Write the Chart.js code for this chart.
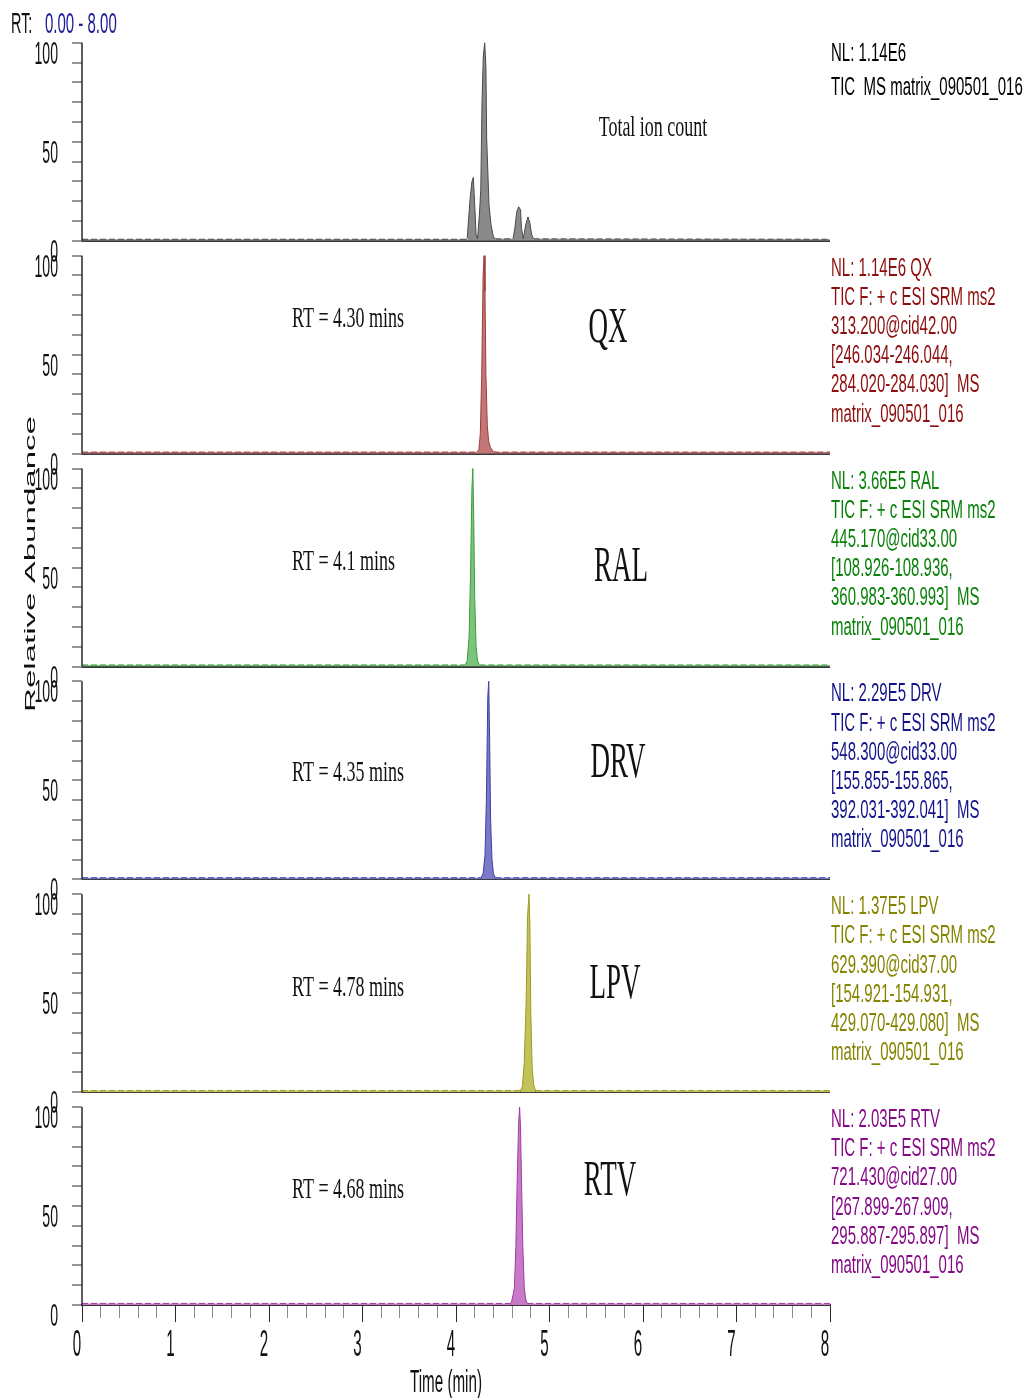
<!DOCTYPE html>
<html>
<head>
<meta charset="utf-8">
<title>LC-MS/MS chromatograms</title>
<script src="https://cdn.jsdelivr.net/npm/chart.js@4.4.1/dist/chart.umd.min.js"></script>
<style>
  html, body { margin: 0; padding: 0; background: #ffffff; }
  #wrap { position: relative; width: 1030px; height: 1398px; }
</style>
</head>
<body>
<div id="wrap"><canvas id="chrom"></canvas></div>
<script>
// ---- chromatogram traces: [retention time (min), relative abundance (%)] ----
const ticTrace = [[0,0.8],[4.10,0.8],[4.12,1.5],[4.15,20.7],[4.17,29.8],[4.185,32],[4.20,18.2],[4.215,3],[4.23,1],
  [4.25,13.1],[4.265,25.8],[4.278,69.2],[4.292,93.4],[4.307,100],[4.32,87.9],[4.328,52],[4.353,18.2],[4.374,8.1],
  [4.40,2],[4.42,1],[4.61,1],[4.63,6.6],[4.65,14.6],[4.67,17.2],[4.69,15.7],[4.70,6.6],[4.72,1],
  [4.745,8.1],[4.77,12.1],[4.79,9.1],[4.81,3],[4.83,1],[8,0.8]];
const qxTrace  = [[0,0.8],[4.22,0.8],[4.245,2],[4.26,10],[4.275,40],[4.29,90],[4.30,100],[4.31,82],[4.32,40],
  [4.335,14],[4.35,6],[4.37,3],[4.40,1],[4.43,0.8],[8,0.8]];
const ralTrace = [[0,0.8],[4.10,0.8],[4.12,3],[4.14,15],[4.155,45],[4.17,90],[4.18,100],[4.19,75],[4.20,35],
  [4.215,10],[4.23,3],[4.25,0.8],[8,0.8]];
const drvTrace = [[0,0.8],[4.27,0.8],[4.29,3],[4.31,12],[4.325,40],[4.34,92],[4.35,100],[4.36,70],[4.37,30],
  [4.385,10],[4.40,3],[4.42,0.8],[8,0.8]];
const lpvTrace = [[0,0.8],[4.69,0.8],[4.71,3],[4.73,15],[4.75,45],[4.765,88],[4.78,100],[4.79,85],[4.80,40],
  [4.815,12],[4.83,4],[4.85,0.8],[8,0.8]];
const rtvTrace = [[0,0.8],[4.59,0.8],[4.61,5],[4.625,9],[4.64,29],[4.655,64],[4.67,92],[4.68,100],[4.69,90],
  [4.70,64],[4.715,29],[4.73,9],[4.745,3],[4.76,0.8],[8,0.8]];

// ---- axis tick labels ----
const yTickLabels = [0, 50, 100];
const xTickLabels = [0, 1, 2, 3, 4, 5, 6, 7, 8];

// ---- panel texts ----
const compounds = ['QX', 'RAL', 'DRV', 'LPV', 'RTV'];
const rtLabels = ['RT = 4.30 mins', 'RT = 4.1 mins', 'RT = 4.35 mins', 'RT = 4.78 mins', 'RT = 4.68 mins'];
const ticInfo = ['NL: 1.14E6', 'TIC  MS matrix_090501_016'];
const qxInfo  = ['NL: 1.14E6 QX', 'TIC F: + c ESI SRM ms2', '313.200@cid42.00', '[246.034-246.044,', '284.020-284.030]  MS', 'matrix_090501_016'];
const ralInfo = ['NL: 3.66E5 RAL', 'TIC F: + c ESI SRM ms2', '445.170@cid33.00', '[108.926-108.936,', '360.983-360.993]  MS', 'matrix_090501_016'];
const drvInfo = ['NL: 2.29E5 DRV', 'TIC F: + c ESI SRM ms2', '548.300@cid33.00', '[155.855-155.865,', '392.031-392.041]  MS', 'matrix_090501_016'];
const lpvInfo = ['NL: 1.37E5 LPV', 'TIC F: + c ESI SRM ms2', '629.390@cid37.00', '[154.921-154.931,', '429.070-429.080]  MS', 'matrix_090501_016'];
const rtvInfo = ['NL: 2.03E5 RTV', 'TIC F: + c ESI SRM ms2', '721.430@cid27.00', '[267.899-267.909,', '295.887-295.897]  MS', 'matrix_090501_016'];

// ---- styling per panel (top to bottom) ----
const panelStyles = [
  { fill: '#8a8a8a', line: '#4a4a4a', text: '#000000' },
  { fill: '#c27676', line: '#a03c3c', text: '#8e0d0d' },
  { fill: '#7cc47c', line: '#3c9e3c', text: '#0a820a' },
  { fill: '#7a7ac8', line: '#3e3ea6', text: '#14148a' },
  { fill: '#c2c25a', line: '#9c9c22', text: '#848400' },
  { fill: '#c77ac7', line: '#a03ca0', text: '#860a86' }
];
const traces = [ticTrace, qxTrace, ralTrace, drvTrace, lpvTrace, rtvTrace];
const infos  = [ticInfo, qxInfo, ralInfo, drvInfo, lpvInfo, rtvInfo];
const panelIds = ['p1', 'p2', 'p3', 'p4', 'p5', 'p6'];

const SANS = '"Liberation Sans", Arial, sans-serif';
const SERIF = '"Liberation Serif", "Times New Roman", serif';

// Draws horizontally condensed text (the instrument software uses a tall narrow face).
function condensed(ctx, text, x, y, font, color, sx, align) {
  ctx.save();
  ctx.font = font;
  ctx.fillStyle = color;
  ctx.textBaseline = 'alphabetic';
  ctx.textAlign = 'left';
  const w = ctx.measureText(text).width * sx;
  const x0 = align === 'right' ? x - w : align === 'center' ? x - w / 2 : x;
  ctx.translate(x0, y);
  ctx.scale(sx, 1);
  ctx.fillText(text, 0, 0);
  ctx.restore();
}

const isWhole = v => Math.abs(v - Math.round(v)) < 1e-6;

const datasets = traces.map((tr, i) => ({
  data: tr.map(p => ({ x: p[0], y: p[1] })),
  xAxisID: 'x',
  yAxisID: panelIds[i],
  borderColor: panelStyles[i].line,
  backgroundColor: panelStyles[i].fill,
  borderWidth: 1,
  pointRadius: 0,
  tension: 0,
  fill: 'origin',
  segment: {
    borderDash: c => (c.p0.parsed.y < 2 && c.p1.parsed.y < 2) ? [6, 3] : undefined
  }
}));

const yScale = (i) => ({
  type: 'linear',
  position: 'left',
  stack: 'panels',
  stackWeight: 1,
  weight: 6 - i,
  min: 0,
  max: 107.5,
  afterFit: s => { s.width = 82; },
  ticks: { display: false, stepSize: 10, includeBounds: false },
  border: { display: false },
  grid: {
    drawOnChartArea: true,
    drawTicks: true,
    tickLength: 10,
    tickWidth: 1,
    tickColor: '#2a2a2a',
    color: c => (c.tick && c.tick.value === 0) ? '#3a3a3a' : 'rgba(0,0,0,0)',
    lineWidth: c => (c.tick && c.tick.value === 0) ? 2 : 0
  }
});

const scales = {
  x: {
    type: 'linear',
    position: 'bottom',
    min: 0,
    max: 8,
    afterFit: s => { s.height = 93; },
    ticks: { display: false, stepSize: 0.2 },
    border: { display: true, color: '#333333', width: 2 },
    grid: {
      drawOnChartArea: false,
      drawTicks: true,
      tickLength: 17,
      tickWidth: 1,
      tickColor: c => isWhole(c.tick.value) ? '#2a2a2a' : '#8a8a8a',
      tickBorderDash: c => isWhole(c.tick.value) ? [] : [12, 40]
    }
  }
};
panelIds.forEach((id, i) => { scales[id] = yScale(i); });

// Axis spines, tick labels and panel annotations.
const decorations = {
  id: 'decorations',
  afterDraw(chart) {
    const ctx = chart.ctx;
    const xs = chart.scales.x;
    const area = chart.chartArea;

    // per-panel vertical axis line (0..100)
    ctx.save();
    ctx.strokeStyle = '#2a2a2a';
    ctx.lineWidth = 1.5;
    panelIds.forEach(id => {
      const s = chart.scales[id];
      ctx.beginPath();
      ctx.moveTo(area.left, s.getPixelForValue(0));
      ctx.lineTo(area.left, s.getPixelForValue(100));
      ctx.stroke();
    });
    ctx.restore();

    // y tick labels
    panelIds.forEach(id => {
      const s = chart.scales[id];
      yTickLabels.forEach(v => {
        condensed(ctx, String(v), 58, s.getPixelForValue(v) + 21, '32px ' + SANS, '#111111', 0.44, 'right');
      });
    });

    // x tick labels and title
    xTickLabels.forEach(v => {
      condensed(ctx, String(v), xs.getPixelForValue(v) - 5, 1356, '36px ' + SANS, '#111111', 0.42, 'center');
    });
    condensed(ctx, 'Time (min)', 446, 1392, '31px ' + SANS, '#111111', 0.49, 'center');

    // header
    condensed(ctx, 'RT:', 11, 33, '30px ' + SANS, '#111111', 0.48, 'left');
    condensed(ctx, '0.00 - 8.00', 45, 33, '30px ' + SANS, '#1c1c96', 0.5, 'left');

    // y axis title (stretched along its length)
    ctx.save();
    ctx.font = '15px ' + SANS;
    ctx.fillStyle = '#111111';
    const tw = ctx.measureText('Relative Abundance').width;
    ctx.translate(35, 564);
    ctx.rotate(-Math.PI / 2);
    ctx.scale(296 / tw, 1);
    ctx.textAlign = 'center';
    ctx.textBaseline = 'alphabetic';
    ctx.fillText('Relative Abundance', 0, 0);
    ctx.restore();

    // right-hand info blocks
    const p1 = chart.scales.p1;
    const top1 = p1.getPixelForValue(100);
    condensed(ctx, ticInfo[0], 831, top1 + 18, '25px ' + SANS, panelStyles[0].text, 0.6, 'left');
    condensed(ctx, ticInfo[1], 831, top1 + 52, '25px ' + SANS, panelStyles[0].text, 0.6, 'left');
    for (let i = 1; i < 6; i++) {
      const s = chart.scales[panelIds[i]];
      const t = s.getPixelForValue(100);
      infos[i].forEach((line, k) => {
        condensed(ctx, line, 831, t + 20 + k * 29.2, '25px ' + SANS, panelStyles[i].text, 0.6, 'left');
      });
    }

    // in-panel labels
    condensed(ctx, 'Total ion count', 653, top1 + 93, '30px ' + SERIF, '#111111', 0.6, 'center');
    const rtY = [71, 101, 100, 102, 91];
    const nameY = [86, 112, 96, 104, 88];
    const nameX = [608, 621, 618, 615, 610];
    for (let i = 1; i < 6; i++) {
      const t = chart.scales[panelIds[i]].getPixelForValue(100);
      condensed(ctx, rtLabels[i - 1], 292, t + rtY[i - 1], '30px ' + SERIF, '#111111', 0.6, 'left');
      condensed(ctx, compounds[i - 1], nameX[i - 1], t + nameY[i - 1], '50px ' + SERIF, '#111111', 0.54, 'center');
    }
  }
};

new Chart(document.getElementById('chrom'), {
  type: 'line',
  data: { datasets },
  options: {
    responsive: true,
    maintainAspectRatio: false,
    animation: false,
    events: [],
    layout: { padding: { top: 28, right: 200, bottom: 0, left: 0 } },
    plugins: { legend: { display: false }, tooltip: { enabled: false } },
    scales
  },
  plugins: [decorations]
});
</script>
</body>
</html>
